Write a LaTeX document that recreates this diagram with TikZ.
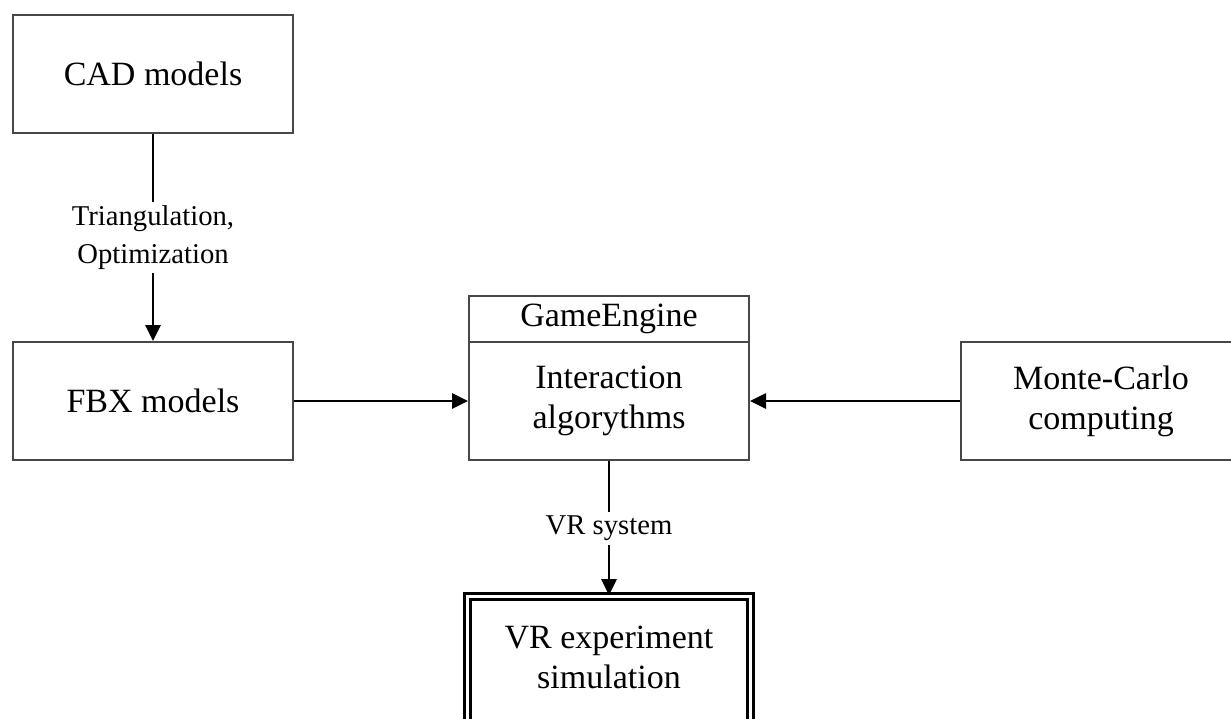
\documentclass[tikz,border=0pt]{standalone}
\usepackage{fontspec}
\setmainfont{Liberation Serif}
\usetikzlibrary{arrows.meta,positioning}

\tikzset{
  x=0.75pt, y=-0.75pt,
  box/.style={draw=black!72, line width=1.5pt, fill=white, rectangle,
    minimum width=210pt, minimum height=88.5pt, align=center,
    font=\fontsize{25.5}{30}\selectfont, inner sep=0pt},
  headbox/.style={box, minimum height=34.5pt},
  finalbox/.style={draw=black, line width=2.2pt, double=white, double distance=2.2pt,
    rectangle, minimum width=212pt, minimum height=98pt, inner sep=0pt},
  boxtext/.style={align=center, font=\fontsize{25.5}{30}\selectfont, inner sep=0pt},
  lbl/.style={fill=white, align=center, font=\fontsize{21.5}{28}\selectfont, inner sep=3pt},
  conn/.style={draw=black, line width=1.2pt, -{Triangle[length=12pt,width=11.5pt]}}
}

\begin{document}
\begin{tikzpicture}
\useasboundingbox (0,0) rectangle (1231,718);

% left column: source models
\node[box] (cad) at (153,74) {CAD models};
\node[box] (fbx) at (153,401) {FBX models};

% game engine block with its header
\node[box] (engine) at (609,401) {Interaction\\algorythms};
\node[headbox] (header) at (609,319) {GameEngine};

% right: simulation input
\node[box] (mc) at (1101,401) {Monte-Carlo\\computing};

% output block
\node[finalbox] (vr) at (609,662) {};
\node[boxtext] (vrtext) at (609,657) {VR experiment\\simulation};

% connectors
\draw[conn] (cad.south) -- node[lbl] (tri) {Triangulation,\\Optimization} (fbx.north);
\draw[conn] (fbx.east) -- (engine.west);
\draw[conn] (mc.west) -- (engine.east);
\draw[conn] (engine.south) -- node[lbl] (vrs) {VR system} (vr.north);
\end{tikzpicture}
\end{document}
